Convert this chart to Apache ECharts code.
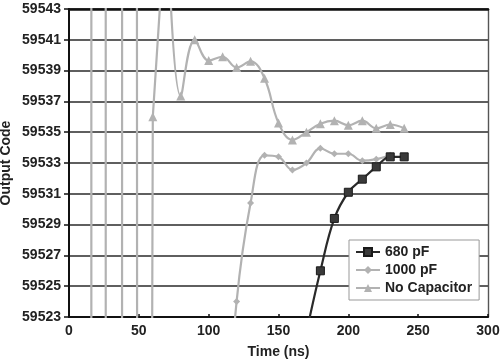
<!DOCTYPE html>
<html>
<head>
<meta charset="utf-8">
<script src="https://cdn.jsdelivr.net/npm/echarts@6/dist/echarts.min.js"></script>
<style>
html,body{margin:0;padding:0;background:#fff;}
#chart{width:500px;height:360px;}
</style>
</head>
<body>
<div id="chart"></div>
<script>
// ---- data ----
const seriesNames = ['680 pF', '1000 pF', 'No Capacitor'];

const t680 = [170, 180, 190, 200, 210, 220, 230, 240];
const v680 = [59522, 59526.0, 59529.4, 59531.1, 59531.95, 59532.75, 59533.4, 59533.4];

const t1000 = [110, 120, 130, 140, 150, 160, 170, 180, 190, 200, 210, 220, 230];
const v1000 = [59512, 59524.0, 59530.4, 59533.5, 59533.4, 59532.55, 59533.0, 59533.95, 59533.6, 59533.6, 59533.15, 59533.25, 59533.5];

// early ringing of "No Capacitor" (far outside the visible code range)
const tNoCapRing = [10, 20, 30, 40, 50, 60, 70];
const vNoCapRing = [39133, 73133, 51533, 61533, 59233, 59536.0, 59550];

// settling part of "No Capacitor"
const tNoCap = [70, 80, 90, 100, 110, 120, 130, 140, 150, 160, 170, 180, 190, 200, 210, 220, 230, 240];
const vNoCap = [59550, 59537.35, 59541.0, 59539.65, 59539.9, 59539.2, 59539.6, 59538.5, 59535.6, 59534.5, 59535.0, 59535.55, 59535.75, 59535.45, 59535.75, 59535.25, 59535.5, 59535.25];

const yMin = 59523, yMax = 59543, yStep = 2;
const xMin = 0, xMax = 300, xStep = 50;

// ---- chart ----
const pairs = (t, v) => t.map((x, i) => [x, v[i]]);
const font = 'Liberation Sans, Arial, sans-serif';
const txt = {fontFamily: font, fontWeight: 'bold', fontSize: 14, color: '#222'};
const gray = '#b2b2b2';
const plain = v => String(v);

const chart = echarts.init(document.getElementById('chart'), null, {renderer: 'canvas'});
chart.setOption({
  animation: false,
  backgroundColor: '#fff',
  grid: {left: 69, right: 12, top: 9, bottom: 43, containLabel: false, outerBoundsMode: 'none'},
  xAxis: [{
    type: 'value', min: xMin, max: xMax, interval: xStep,
    name: 'Time (ns)', nameLocation: 'middle', nameGap: 28, nameMoveOverlap: false,
    nameTextStyle: txt,
    axisLine: {show: true, lineStyle: {color: '#111', width: 2}},
    axisTick: {show: true, inside: true, length: 3, lineStyle: {color: '#111', width: 1.5}},
    axisLabel: Object.assign({margin: 7, formatter: plain}, txt),
    splitLine: {show: false}
  }, {
    type: 'value', min: xMin, max: xMax, interval: xStep, position: 'top',
    axisLine: {show: true, onZero: false, lineStyle: {color: '#111', width: 2.5}},
    axisTick: {show: false}, axisLabel: {show: false}, splitLine: {show: false}
  }],
  yAxis: [{
    type: 'value', min: yMin, max: yMax, interval: yStep,
    name: 'Output Code', nameLocation: 'middle', nameGap: 56, nameRotate: 90, nameMoveOverlap: false,
    nameTextStyle: txt,
    axisLine: {show: true, lineStyle: {color: '#111', width: 2}},
    axisTick: {show: true, inside: false, length: 5, lineStyle: {color: '#111', width: 1.5}},
    axisLabel: Object.assign({margin: 8, formatter: plain}, txt),
    splitLine: {show: true, lineStyle: {color: '#2a2a2a', width: 1.6}}
  }, {
    type: 'value', min: yMin, max: yMax, interval: yStep, position: 'right',
    axisLine: {show: true, onZero: false, lineStyle: {color: '#555', width: 1.4}},
    axisTick: {show: false}, axisLabel: {show: false}, splitLine: {show: false}
  }],
  legend: {
    data: seriesNames,
    orient: 'vertical',
    left: 349, top: 240,
    padding: [5, 7, 5, 6],
    itemGap: 4,
    itemWidth: 24, itemHeight: 10,
    backgroundColor: '#fff',
    borderColor: '#999', borderWidth: 1, borderRadius: 0,
    textStyle: {fontFamily: font, fontWeight: 'bold', fontSize: 14, color: '#222'}
  },
  series: [{
    name: seriesNames[0], type: 'line', smooth: 0.4, clip: true,
    data: pairs(t680, v680),
    symbol: 'rect', symbolSize: 8,
    lineStyle: {color: '#2a2a2a', width: 2.2},
    itemStyle: {color: '#3a3a3a', borderColor: '#1a1a1a', borderWidth: 1},
    z: 5
  }, {
    name: seriesNames[1], type: 'line', smooth: 0.4, clip: true,
    data: pairs(t1000, v1000),
    symbol: 'diamond', symbolSize: 7,
    lineStyle: {color: gray, width: 2.2},
    itemStyle: {color: gray},
    z: 4
  }, {
    name: seriesNames[2], type: 'line', smooth: 0.4, clip: true,
    data: pairs(tNoCap, vNoCap),
    symbol: 'triangle', symbolSize: 9,
    lineStyle: {color: gray, width: 2.2},
    itemStyle: {color: gray},
    z: 3
  }, {
    name: seriesNames[2], type: 'line', smooth: false, clip: true,
    data: pairs(tNoCapRing, vNoCapRing),
    symbol: 'triangle', symbolSize: 9, showSymbol: true,
    lineStyle: {color: gray, width: 2.2},
    itemStyle: {color: gray},
    z: 3
  }]
});
</script>
</body>
</html>
